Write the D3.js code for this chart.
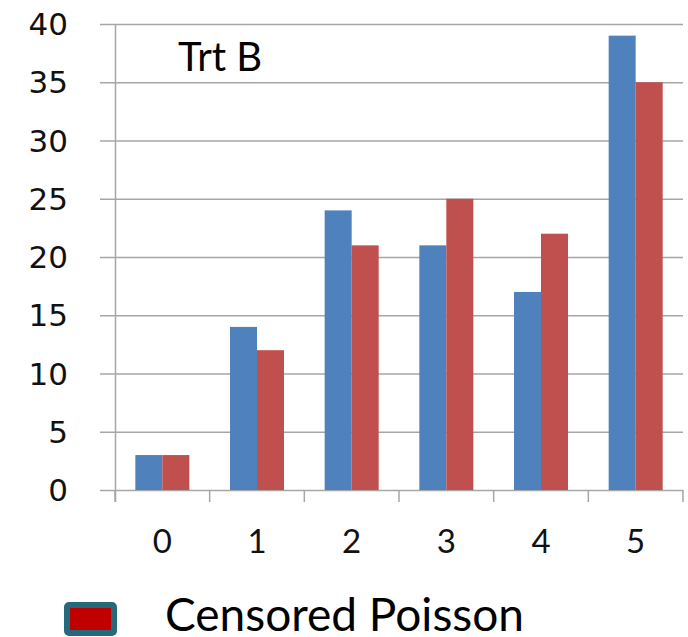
<!DOCTYPE html>
<html>
<head>
<meta charset="utf-8">
<script src="https://cdn.jsdelivr.net/npm/d3@7"></script>
<style>
  body { margin: 0; background: #fff; }
  svg { display: block; }
</style>
</head>
<body>
<div id="chart"></div>
<script>
// chart values
var categories = ["0", "1", "2", "3", "4", "5"];
var observed = [3, 14, 24, 21, 17, 39];
var censoredPoisson = [3, 12, 21, 25, 22, 35];
var yTicks = [0, 5, 10, 15, 20, 25, 30, 35, 40];
var panelLabel = "Trt B";
var legendLabel = "Censored Poisson";

var W = 688, H = 637;
var mLeft = 115, mRight = 683, mTop = 24, mBottom = 490;

var svg = d3.select("#chart").append("svg")
  .attr("width", W).attr("height", H);

var x = d3.scaleBand().domain(categories).range([mLeft, mRight]).paddingInner(0).paddingOuter(0);
var y = d3.scaleLinear().domain([0, 40]).range([mBottom, mTop]);

// gridlines (also serve as left tick marks)
svg.selectAll("line.grid")
  .data(yTicks)
  .join("line")
  .attr("class", "grid")
  .attr("x1", mLeft - 15).attr("x2", mRight)
  .attr("y1", function (d) { return y(d) + 0.5; })
  .attr("y2", function (d) { return y(d) + 0.5; })
  .style("stroke", "#a6a6a6")
  .style("stroke-width", 1.5);

// y axis line
svg.append("line")
  .attr("x1", mLeft + 0.5).attr("x2", mLeft + 0.5)
  .attr("y1", mTop).attr("y2", mBottom + 12)
  .style("stroke", "#a6a6a6").style("stroke-width", 1.5);

// x tick marks at category boundaries
var bounds = categories.map(function (c) { return x(c); }).concat([mRight]);
svg.selectAll("line.xtick")
  .data(bounds)
  .join("line")
  .attr("class", "xtick")
  .attr("x1", function (d) { return d; }).attr("x2", function (d) { return d; })
  .attr("y1", mBottom).attr("y2", mBottom + 12)
  .style("stroke", "#a6a6a6").style("stroke-width", 1.5);

// y labels
svg.selectAll("text.ylab")
  .data(yTicks)
  .join("text")
  .attr("class", "ylab")
  .attr("x", 68)
  .attr("y", function (d) { return y(d) + 11; })
  .attr("text-anchor", "end")
  .style("font-family", "DejaVu Sans")
  .style("font-size", "31px")
  .style("fill", "#111")
  .text(function (d) { return d; });

// x labels
svg.selectAll("text.xlab")
  .data(categories)
  .join("text")
  .attr("class", "xlab")
  .attr("x", function (d) { return x(d) + x.bandwidth() / 2; })
  .attr("y", 553)
  .attr("text-anchor", "middle")
  .style("font-family", "Lato")
  .style("font-size", "33px")
  .style("fill", "#111")
  .text(function (d) { return d; });

// bars
var barW = 27;
var inner = d3.scaleBand().domain([0, 1]).range([0, barW * 2]);
var series = [
  { values: observed, color: "#4f81bd" },
  { values: censoredPoisson, color: "#c0504d" }
];
series.forEach(function (s, si) {
  svg.selectAll("rect.s" + si)
    .data(s.values)
    .join("rect")
    .attr("class", "s" + si)
    .attr("x", function (d, i) { return x(categories[i]) + (x.bandwidth() - barW * 2) / 2 + inner(si); })
    .attr("y", function (d) { return y(d); })
    .attr("width", inner.bandwidth())
    .attr("height", function (d) { return mBottom - y(d); })
    .style("fill", s.color);
});

// panel label
svg.append("text")
  .attr("x", 178).attr("y", 71)
  .style("font-family", "Lato")
  .style("font-size", "40px")
  .style("fill", "#000")
  .text(panelLabel);

// legend
svg.append("rect")
  .attr("x", 67).attr("y", 605)
  .attr("width", 47).attr("height", 28)
  .attr("rx", 2)
  .style("fill", "#c00000")
  .style("stroke", "#256a7a")
  .style("stroke-width", 6);

svg.append("text")
  .attr("x", 165).attr("y", 631)
  .style("font-family", "Lato")
  .style("font-size", "46px")
  .style("fill", "#000")
  .text(legendLabel);
</script>
</body>
</html>
